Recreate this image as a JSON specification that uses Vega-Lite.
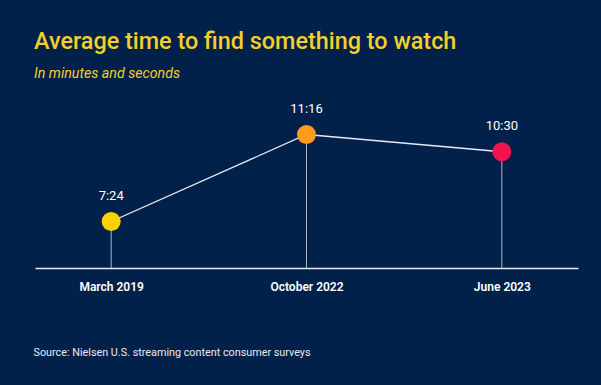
{
  "$schema": "https://vega.github.io/schema/vega-lite/v6.json",
  "width": 543,
  "height": 150,
  "autosize": {"type": "none"},
  "padding": {"left": 35, "top": 118, "right": 23, "bottom": 117},
  "background": "#02214a",
  "config": {"view": {"stroke": null}, "font": "Roboto"},
  "title": {
    "text": "Average time to find something to watch",
    "subtitle": "In minutes and seconds",
    "anchor": "start",
    "frame": "group",
    "font": "Roboto",
    "fontSize": 23.4,
    "fontWeight": 500,
    "color": "#f3cf2c",
    "subtitleFont": "Roboto",
    "subtitleFontSize": 14.2,
    "subtitleFontStyle": "italic",
    "subtitleColor": "#f3cf2c",
    "subtitlePadding": 13,
    "offset": 20,
    "dx": -1
  },
  "data": {
    "values": [
      {"date": "March 2019", "seconds": 444, "label": "7:24"},
      {"date": "October 2022", "seconds": 676, "label": "11:16"},
      {"date": "June 2023", "seconds": 630, "label": "10:30"}
    ]
  },
  "encoding": {
    "x": {
      "field": "date",
      "type": "ordinal",
      "sort": null,
      "scale": {"type": "point", "padding": 0.39},
      "axis": {
        "title": "Source: Nielsen U.S. streaming content consumer surveys",
        "titleX": -2,
        "titleY": 84,
        "titleAnchor": "start",
        "titleAlign": "left",
        "titleBaseline": "middle",
        "titleFont": "Roboto",
        "titleFontSize": 10.8,
        "titleFontWeight": "normal",
        "titleColor": "#e8ebf2",
        "labelAngle": 0,
        "labelFont": "Roboto",
        "labelFontSize": 12,
        "labelFontWeight": 600,
        "labelColor": "#ffffff",
        "labelPadding": 13,
        "ticks": false,
        "grid": false,
        "domainColor": "#e6eaf2",
        "domainWidth": 1.3
      }
    },
    "y": {
      "field": "seconds",
      "type": "quantitative",
      "scale": {"domain": [320, 720], "nice": false, "zero": false},
      "axis": null
    }
  },
  "layer": [
    {
      "mark": {"type": "rule", "color": "#a9b5c9", "strokeWidth": 1},
      "encoding": {"y2": {"datum": 320}}
    },
    {
      "mark": {"type": "line", "color": "#e8ecf3", "strokeWidth": 1.3}
    },
    {
      "mark": {"type": "circle", "size": 360, "opacity": 1},
      "encoding": {
        "color": {
          "field": "date",
          "type": "nominal",
          "scale": {"domain": ["March 2019", "October 2022", "June 2023"], "range": ["#ffd100", "#ff9b1b", "#f0134f"]},
          "legend": null
        }
      }
    },
    {
      "mark": {"type": "text", "dy": -26, "fontSize": 13, "font": "Roboto", "color": "#ffffff"},
      "encoding": {"text": {"field": "label"}}
    }
  ]
}
